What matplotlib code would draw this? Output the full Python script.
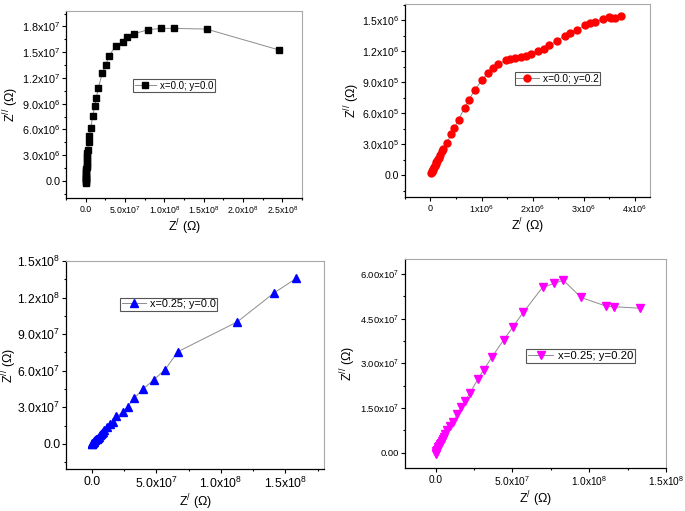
import matplotlib
matplotlib.use("Agg")
import matplotlib.pyplot as plt
from matplotlib.ticker import AutoMinorLocator

plt.rcParams['font.family'] = ['Liberation Sans', 'DejaVu Sans']
plt.rcParams['mathtext.default'] = 'regular'

# ---- data ----
# x=0.0; y=0.0
zr_a = [0.0, 0.05e6, 0.1e6, 0.2e6, 0.3e6, 0.4e6, 0.55e6, 0.7e6, 0.85e6, 1.0e6, 1.2e6, 1.4e6,
        1.6e6, 1.8e6, 2.0e6, 2.2e6, 2.5e6, 3.8e6, 4.7e6, 6.3e6, 8.9e6, 1.14e7, 1.35e7, 1.61e7,
        2.11e7, 2.53e7, 2.96e7, 3.8e7, 4.73e7, 5.28e7, 6.13e7, 7.9e7, 9.58e7, 1.127e8, 1.537e8, 2.456e8]
zi_a = [-0.25e6, -0.1e6, 0.05e6, 0.2e6, 0.35e6, 0.5e6, 0.7e6, 0.9e6, 1.1e6, 1.35e6, 1.6e6, 1.9e6,
        2.2e6, 2.5e6, 2.85e6, 3.2e6, 3.64e6, 4.54e6, 5.2e6, 6.14e6, 7.51e6, 8.69e6, 9.63e6, 1.088e7,
        1.253e7, 1.347e7, 1.456e7, 1.57e7, 1.624e7, 1.679e7, 1.714e7, 1.761e7, 1.777e7, 1.777e7, 1.769e7, 1.526e7]

# x=0.0; y=0.2
zr_b = [0.015e6, 0.025e6, 0.035e6, 0.045e6, 0.055e6, 0.07e6, 0.085e6, 0.10e6, 0.115e6, 0.13e6, 0.145e6, 0.16e6,
        0.184e6, 0.22e6, 0.249e6, 0.314e6, 0.406e6, 0.465e6, 0.549e6, 0.667e6, 0.753e6, 0.863e6, 1.01e6,
        1.125e6, 1.22e6, 1.33e6, 1.48e6, 1.56e6, 1.65e6, 1.78e6, 1.87e6, 1.97e6, 2.11e6, 2.22e6, 2.33e6,
        2.47e6, 2.63e6, 2.73e6, 2.87e6, 3.03e6, 3.125e6, 3.22e6, 3.37e6, 3.49e6, 3.54e6, 3.62e6, 3.74e6]
zi_b = [0.02e6, 0.03e6, 0.04e6, 0.05e6, 0.065e6, 0.08e6, 0.095e6, 0.11e6, 0.125e6, 0.14e6, 0.155e6, 0.17e6,
        0.192e6, 0.24e6, 0.256e6, 0.312e6, 0.396e6, 0.458e6, 0.539e6, 0.653e6, 0.731e6, 0.825e6, 0.922e6,
        0.994e6, 1.039e6, 1.081e6, 1.113e6, 1.127e6, 1.133e6, 1.146e6, 1.159e6, 1.172e6, 1.2e6, 1.227e6, 1.26e6,
        1.305e6, 1.35e6, 1.38e6, 1.412e6, 1.455e6, 1.471e6, 1.484e6, 1.513e6, 1.533e6, 1.523e6, 1.526e6, 1.539e6]

# x=0.25; y=0.0
zr_c = [0.0, 0.2e6, 0.5e6, 0.9e6, 1.4e6, 1.9e6, 2.5e6, 3.1e6, 3.8e6, 4.5e6, 5.2e6, 6.0e6, 6.8e6, 7.6e6,
        8.5e6, 9.5e6, 1.16e7, 1.42e7, 1.62e7, 1.91e7, 2.40e7, 2.78e7, 3.27e7, 3.97e7, 4.82e7, 5.69e7,
        6.65e7, 1.126e8, 1.414e8, 1.584e8]
zi_c = [0.0, 0.2e6, 0.55e6, 1.0e6, 1.6e6, 2.2e6, 2.9e6, 3.6e6, 4.4e6, 5.2e6, 6.0e6, 6.9e6, 7.8e6, 8.8e6,
        9.8e6, 1.10e7, 1.35e7, 1.59e7, 1.81e7, 2.25e7, 2.61e7, 3.05e7, 3.74e7, 4.50e7, 5.27e7, 6.10e7,
        7.55e7, 1.0e8, 1.239e8, 1.357e8]

# x=0.25; y=0.20
zr_d = [0.0, 0.2e6, 0.5e6, 0.9e6, 1.3e6, 1.8e6, 2.3e6, 2.8e6, 3.4e6, 4.0e6, 4.7e6, 5.4e6, 6.3e6, 7.6e6,
        9.3e6, 1.15e7, 1.41e7, 1.65e7, 1.91e7, 2.25e7, 2.75e7, 3.14e7, 3.66e7, 4.42e7, 5.01e7, 5.72e7,
        6.96e7, 7.72e7, 8.32e7, 9.47e7, 1.11e8, 1.162e8, 1.329e8]
zi_d = [-0.3e6, 0.1e6, 0.5e6, 0.9e6, 1.3e6, 1.8e6, 2.3e6, 2.8e6, 3.4e6, 4.0e6, 4.7e6, 5.4e6, 6.3e6, 7.6e6,
        8.9e6, 1.05e7, 1.30e7, 1.53e7, 1.73e7, 2.02e7, 2.47e7, 2.79e7, 3.21e7, 3.78e7, 4.21e7, 4.72e7,
        5.55e7, 5.68e7, 5.79e7, 5.21e7, 4.92e7, 4.90e7, 4.85e7]

# ticks
xt_a = [0, 5e7, 1e8, 1.5e8, 2e8, 2.5e8]
xl_a = ["0.0", "5.0x10$^{7}$", "1.0x10$^{8}$", "1.5x10$^{8}$", "2.0x10$^{8}$", "2.5x10$^{8}$"]
yt_a = [0, 3e6, 6e6, 9e6, 1.2e7, 1.5e7, 1.8e7]
yl_a = ["0.0", "3.0x10$^{6}$", "6.0x10$^{6}$", "9.0x10$^{6}$", "1.2x10$^{7}$", "1.5x10$^{7}$", "1.8x10$^{7}$"]

xt_b = [0, 1e6, 2e6, 3e6, 4e6]
xl_b = ["0", "1x10$^{6}$", "2x10$^{6}$", "3x10$^{6}$", "4x10$^{6}$"]
yt_b = [0, 3e5, 6e5, 9e5, 1.2e6, 1.5e6]
yl_b = ["0.0", "3.0x10$^{5}$", "6.0x10$^{5}$", "9.0x10$^{5}$", "1.2x10$^{6}$", "1.5x10$^{6}$"]

xt_c = [0, 5e7, 1e8, 1.5e8]
xl_c = ["0.0", "5.0x10$^{7}$", "1.0x10$^{8}$", "1.5x10$^{8}$"]
yt_c = [0, 3e7, 6e7, 9e7, 1.2e8, 1.5e8]
yl_c = ["0.0", "3.0x10$^{7}$", "6.0x10$^{7}$", "9.0x10$^{7}$", "1.2x10$^{8}$", "1.5x10$^{8}$"]

xt_d = [0, 5e7, 1e8, 1.5e8]
xl_d = ["0.0", "5.0x10$^{7}$", "1.0x10$^{8}$", "1.5x10$^{8}$"]
yt_d = [0, 1.5e7, 3e7, 4.5e7, 6e7]
yl_d = ["0.00", "1.50x10$^{7}$", "3.00x10$^{7}$", "4.50x10$^{7}$", "6.00x10$^{7}$"]

W, H = 685, 511
fig = plt.figure(figsize=(W / 100, H / 100), dpi=100)

panels = [
    # rect, x, y, marker, ms, color, label, xlim, ylim, ticks..., legend anchor,
    # font sizes (x, y, legend), ylabel centre x in px
    ([0.0964, 0.6125, 0.3445, 0.366], zr_a, zi_a, 's', 3.8, 'black', 'x=0.0; y=0.0',
     (-2.5e7, 2.75e8), (-2e6, 1.98e7), xt_a, xl_a, yt_a, yl_a, (0.284, 0.636), (6.3, 7.8, 7), 11),
    ([0.5912, 0.6145, 0.3577, 0.3777], zr_b, zi_b, 'o', 5, 'red', 'x=0.0; y=0.2',
     (-5e5, 4.3e6), (-2.1e5, 1.66e6), xt_b, xl_b, yt_b, yl_b, (0.448, 0.646), (6.5, 7.6, 7.3), 352),
    ([0.0964, 0.0822, 0.3766, 0.407], zr_c, zi_c, '^', 5.5, 'blue', 'x=0.25; y=0.0',
     (-2e7, 1.8e8), (-2.06e7, 1.5e8), xt_c, xl_c, yt_c, yl_c, (0.21, 0.824), (8.8, 8.8, 7.8), 9),
    ([0.5912, 0.0841, 0.381, 0.409], zr_d, zi_d, 'v', 5.5, 'magenta', 'x=0.25; y=0.20',
     (-2e7, 1.5e8), (-5.1e6, 6.5e7), xt_d, xl_d, yt_d, yl_d, (0.465, 0.569), (7.3, 6.8, 8.2), 348),
]

for rect, xs, ys, mk, ms, col, lab, xlim, ylim, xt, xl, yt, yl, anchor, fs, ylx in panels:
    ax = fig.add_axes(rect)
    ax.plot(xs, ys, color='#8c8c8c', lw=0.7, marker=mk, ms=ms,
            mfc=col, mec=col, label=lab)
    ax.set_xlim(*xlim)
    ax.set_ylim(*ylim)
    ax.set_xticks(xt)
    ax.set_xticklabels(xl)
    ax.set_yticks(yt)
    ax.set_yticklabels(yl)
    ax.xaxis.set_minor_locator(AutoMinorLocator(2))
    ax.yaxis.set_minor_locator(AutoMinorLocator(2))
    ax.tick_params(which='both', direction='out', top=False, right=False)
    ax.tick_params(axis='x', labelsize=fs[0], pad=2)
    ax.tick_params(axis='y', labelsize=fs[1], pad=1.2)
    ax.tick_params(which='major', length=2.8, width=0.8)
    ax.tick_params(which='minor', length=1.6, width=0.8)
    for s in ['top', 'right']:
        ax.spines[s].set_color('#a8a8a8')
    for s in ['left', 'bottom']:
        ax.spines[s].set_linewidth(0.9)
    ax.set_xlabel("Z$^{/}$ (Ω)", fontsize=9, labelpad=1)
    # y label placed at a fixed pixel column, centred on the axes
    fig.text(ylx / W, rect[1] + rect[3] / 2, "Z$^{//}$ (Ω)", fontsize=9,
             rotation=90, ha='center', va='center')
    leg = ax.legend(loc='upper left', bbox_to_anchor=anchor, borderaxespad=0, fontsize=fs[2],
                    fancybox=False, framealpha=1, edgecolor='#555555', handlelength=2.2,
                    handletextpad=0.4, borderpad=0.15)
    leg.get_frame().set_linewidth(0.8)

fig.savefig("out.png", dpi=100)
